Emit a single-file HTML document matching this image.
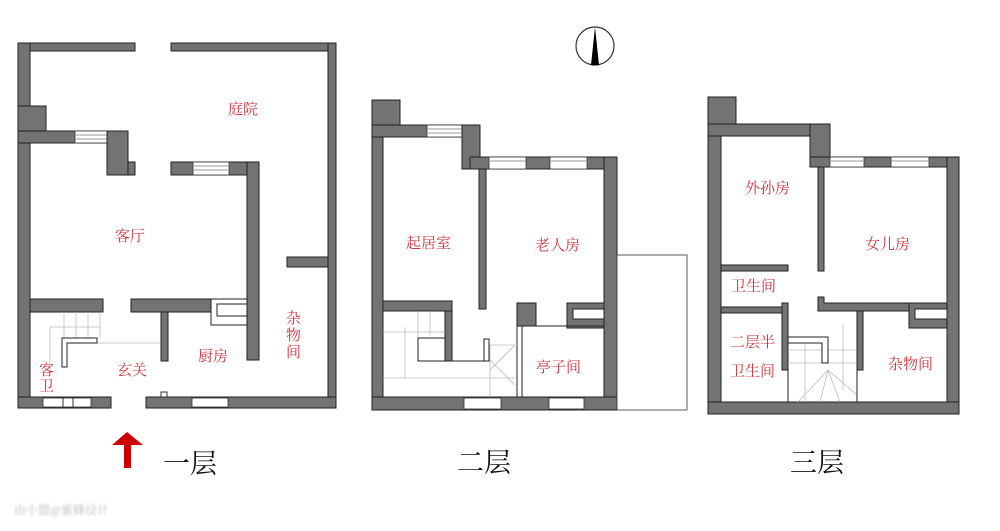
<!DOCTYPE html>
<html><head><meta charset="utf-8"><style>
html,body{margin:0;padding:0;background:#fff;width:1000px;height:531px;overflow:hidden}
svg text{font-family:"Liberation Serif","Noto Serif CJK SC",serif}
.w{fill:#737373;stroke:#222;stroke-width:1}
.win{fill:#fff;stroke:#333;stroke-width:0.8}
.st{stroke:#bbb;stroke-width:0.8;fill:none}
.l{fill:#d0333b;font-size:15px}
.t{fill:#111;font-size:27px}
</style></head><body>
<svg width="1000" height="531" viewBox="0 0 1000 531">
<!-- FLOOR 1 -->
<g>
<rect class="w" x="18" y="43" width="117" height="8"/>
<rect class="w" x="171" y="43" width="165" height="8"/>
<rect class="w" x="18" y="43" width="12" height="365"/>
<rect class="w" x="18" y="106" width="28" height="37"/>
<rect class="w" x="18" y="131" width="90" height="12"/>
<rect class="win" x="75" y="131" width="32" height="12"/>
<line x1="75" y1="135" x2="107" y2="135" stroke="#999"/><line x1="75" y1="139" x2="107" y2="139" stroke="#999"/>
<rect class="w" x="107" y="131" width="21" height="44"/>
<rect class="w" x="128" y="162" width="7" height="13"/>
<rect class="w" x="328" y="43" width="8" height="365"/>
<rect class="w" x="287" y="257" width="41" height="10"/>
<rect class="w" x="171" y="162" width="88" height="13"/>
<rect class="win" x="193" y="162" width="36" height="13"/>
<line x1="193" y1="166" x2="229" y2="166" stroke="#999"/><line x1="193" y1="170" x2="229" y2="170" stroke="#999"/>
<rect class="w" x="247" y="162" width="12" height="198"/>
<rect class="w" x="30" y="299" width="73" height="13"/>
<rect class="w" x="131" y="299" width="80" height="13"/>
<rect x="211" y="299" width="36" height="26" fill="#fff" stroke="#222"/>
<rect x="217" y="304" width="30" height="12" fill="#fff" stroke="#222"/>
<rect class="w" x="161" y="312" width="7" height="49"/>
<rect class="w" x="18" y="397" width="93" height="11"/>
<rect class="win" x="43" y="398" width="48" height="9"/>
<line x1="63" y1="398" x2="63" y2="407" stroke="#333"/><line x1="73" y1="398" x2="73" y2="407" stroke="#333"/>
<rect class="w" x="146" y="397" width="190" height="11"/>
<rect class="win" x="192" y="398" width="36" height="9"/>
<rect x="161" y="392" width="6" height="5" fill="#fff" stroke="#333"/>
<!-- stairs -->
<path class="st" d="M64 312 V338 M76 312 V338 M88 312 V338 M100 312 V338 M50 327 H100 M50 327 V370 M97 343 H161"/>
<path d="M62 338 H97 V343 H67 V367 H62 Z" fill="#fff" stroke="#222"/>
<text class="l" x="228" y="114">庭院</text>
<text class="l" x="115" y="241">客厅</text>
<text class="l" x="286" y="323">杂</text><text class="l" x="286" y="340">物</text><text class="l" x="286" y="357">间</text>
<text class="l" x="198" y="361">厨房</text>
<text class="l" x="117" y="375">玄关</text>
<text class="l" x="39" y="375">客</text><text class="l" x="39" y="391">卫</text>
</g>
<!-- FLOOR 2 -->
<g>
<rect class="w" x="372" y="100" width="11" height="310"/>
<rect class="w" x="372" y="100" width="28" height="37"/>
<rect class="w" x="372" y="125" width="98" height="12"/>
<rect class="win" x="427" y="125" width="35" height="12"/>
<line x1="427" y1="129" x2="462" y2="129" stroke="#999"/><line x1="427" y1="133" x2="462" y2="133" stroke="#999"/>
<rect class="w" x="462" y="125" width="18" height="44"/>
<rect class="w" x="470" y="157" width="147" height="12"/>
<rect class="win" x="489" y="157" width="37" height="12"/>
<rect class="win" x="550" y="157" width="37" height="12"/>
<line x1="489" y1="161" x2="526" y2="161" stroke="#999"/><line x1="550" y1="161" x2="587" y2="161" stroke="#999"/>
<rect class="w" x="604" y="157" width="13" height="253"/>
<rect class="w" x="372" y="397" width="245" height="13"/>
<rect class="win" x="464" y="398" width="37" height="11"/>
<rect class="win" x="549" y="398" width="35" height="11"/>
<rect class="w" x="479" y="169" width="7" height="140"/>
<rect class="w" x="383" y="301" width="69" height="10"/>
<rect class="w" x="445" y="311" width="7" height="50"/>
<rect class="w" x="517" y="303" width="19" height="23"/>
<rect class="w" x="567" y="303" width="37" height="25"/>
<rect x="573" y="309" width="31" height="10" fill="#fff" stroke="#222"/>
<rect x="517" y="326" width="5" height="71" fill="#fff" stroke="#222"/>
<line x1="522" y1="326" x2="604" y2="326" stroke="#222"/>
<rect x="617" y="255" width="70" height="155" fill="#fff" stroke="#333" stroke-width="0.8"/>
<path class="st" d="M383 332 H445 M418 311 V361 M430 311 V335 M405 327 V378 H515 M383 378 H405 M490 345 V397 M490 345 H515 M490 360 L515 385 M490 370 L515 345"/>
<rect x="418" y="338" width="27" height="23" fill="#fff" stroke="#222"/>
<line x1="418" y1="361" x2="484" y2="361" stroke="#222"/>
<rect x="484" y="339" width="5" height="22" fill="#fff" stroke="#222"/>
<text class="l" x="406" y="248">起居室</text>
<text class="l" x="535" y="250">老人房</text>
<text class="l" x="536" y="372">亭子间</text>
</g>
<!-- FLOOR 3 -->
<g>
<rect class="w" x="708" y="97" width="13" height="317"/>
<rect class="w" x="708" y="97" width="28" height="39"/>
<rect class="w" x="708" y="124" width="110" height="12"/>
<rect class="w" x="810" y="124" width="20" height="43"/>
<rect class="w" x="810" y="157" width="149" height="10"/>
<rect class="win" x="830" y="157" width="34" height="10"/>
<rect class="win" x="891" y="157" width="38" height="10"/>
<line x1="830" y1="161" x2="864" y2="161" stroke="#999"/><line x1="891" y1="161" x2="929" y2="161" stroke="#999"/>
<rect class="w" x="947" y="157" width="12" height="257"/>
<rect class="w" x="708" y="402" width="251" height="12"/>
<rect class="w" x="818" y="167" width="6" height="104"/>
<rect class="w" x="721" y="265" width="67" height="6"/>
<rect class="w" x="721" y="307" width="61" height="6"/>
<rect class="w" x="782" y="303" width="6" height="67"/>
<path class="w" d="M818 297 H824 V303 H947 V311 H818 Z"/>
<rect class="w" x="857" y="311" width="6" height="59"/>
<rect class="w" x="909" y="303" width="38" height="25"/>
<rect x="915" y="309" width="32" height="10" fill="#fff" stroke="#222"/>
<path class="st" d="M788 350 H857 M788 363 H857 M843 325 V390 M828 370 L798 402 M828 370 L820 402 M828 370 L840 402 M828 370 L857 395 M805 345 V402 M788 402 V370 M857 370 V402"/>
<line x1="788" y1="370" x2="788" y2="402" stroke="#222"/>
<line x1="857" y1="370" x2="857" y2="402" stroke="#222"/>
<path d="M788 337 H828 V363 H822 V343 H788 Z" fill="#fff" stroke="#222"/>
<text class="l" x="745" y="193">外孙房</text>
<text class="l" x="865" y="249">女儿房</text>
<text class="l" x="731" y="291">卫生间</text>
<text class="l" x="730" y="347">二层半</text>
<text class="l" x="730" y="376">卫生间</text>
<text class="l" x="888" y="369">杂物间</text>
</g>
<!-- compass -->
<circle cx="595" cy="46" r="19" fill="#fff" stroke="#333" stroke-width="1.2"/>
<path d="M595 27 L599 65 H591 Z" fill="#000"/>
<!-- arrow -->
<path d="M127 432 L143 445 H131 V468 H124 V445 H112 Z" fill="#cc0000"/>
<text class="t" x="163" y="473">一层</text>
<text class="t" x="457" y="472">二层</text>
<text class="t" x="790" y="472">三层</text>
<text x="14" y="514" font-size="12" fill="#bbb" style="filter:blur(1px)" font-family="Liberation Sans,'Noto Sans CJK SC',sans-serif">由小盟@蜜蜂设计</text>
</svg>
</body></html>
